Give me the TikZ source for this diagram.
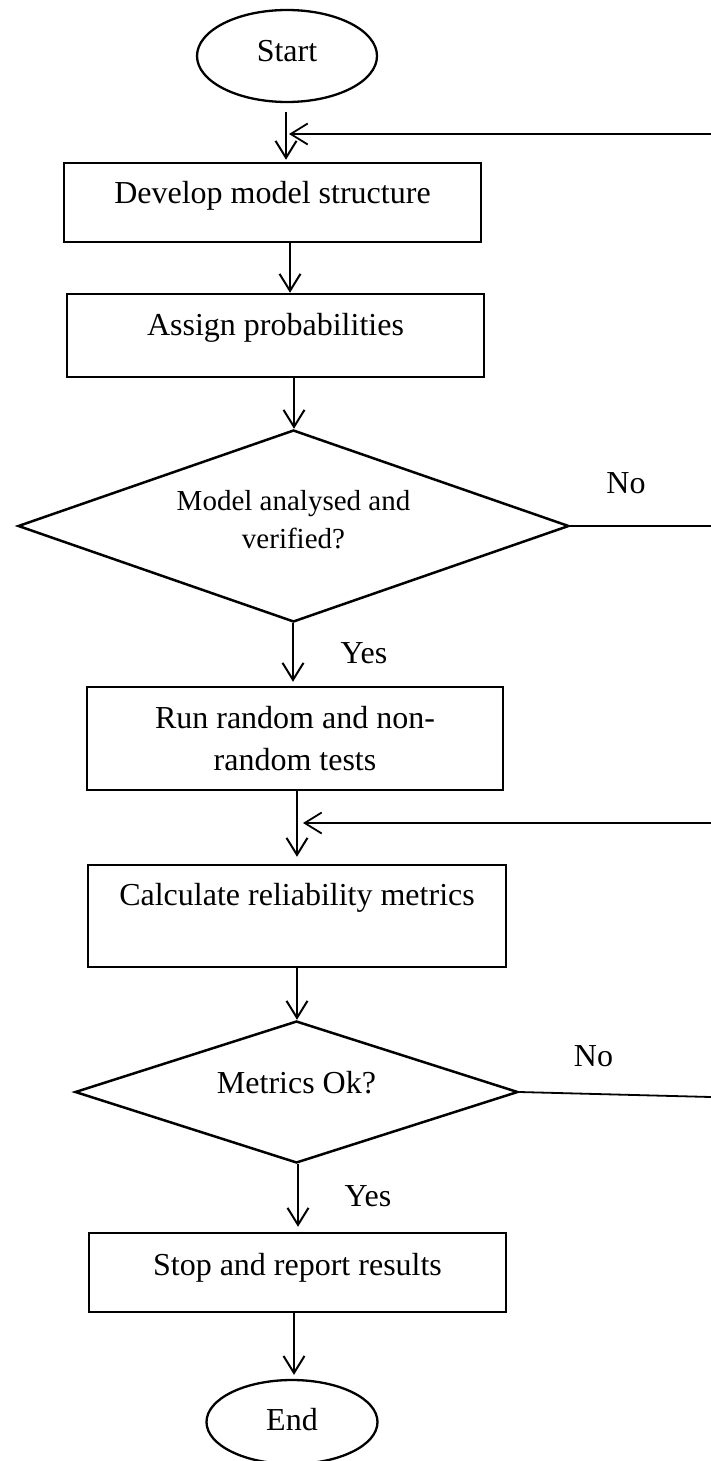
\documentclass[tikz,border=0pt]{standalone}
\usepackage{fontspec}
\setmainfont{Liberation Serif}
\usetikzlibrary{arrows.meta,shapes.geometric}
\begin{document}
\begin{tikzpicture}[x=1pt,y=-1pt,
  every node/.style={inner sep=0pt, font=\fontsize{32}{42}\selectfont},
  terminal/.style={draw, ellipse, line width=2.3pt},
  procbox/.style={draw, rectangle, line width=2.5pt, align=center},
  decision/.style={draw, diamond, line width=2.5pt, align=center},
  flow/.style={line width=2pt, -{Straight Barb[length=17pt,width=21pt]}},
  loopline/.style={line width=1.8pt},
  lbl/.style={anchor=base}
]
\useasboundingbox (0,0) rectangle (711,1461);

% shapes of the flow
\node[terminal, minimum width=180pt, minimum height=92pt, text height=12pt, text depth=0pt] (start) at (287,56) {Start};
\node[procbox, minimum width=417pt, minimum height=79pt, text height=9pt, text depth=8pt] (develop) at (272.5,202.5) {Develop model structure};
\node[procbox, minimum width=417pt, minimum height=83pt, text height=7pt, text depth=8pt] (assign) at (275.5,335.5) {Assign probabilities};
\node[decision, aspect=2.87, minimum width=551pt, minimum height=192pt, text height=52pt, text depth=8pt, font=\fontsize{29}{38}\selectfont] (verify) at (293.5,526) {Model analysed and\\verified?};
\node[procbox, minimum width=416pt, minimum height=103pt, text height=71pt, text depth=8pt] (tests) at (295,738.5) {Run random and non-\\random tests};
\node[procbox, minimum width=418pt, minimum height=102pt, text height=8pt, text depth=30pt] (metrics) at (297,916) {Calculate reliability metrics};
\node[decision, aspect=3.12, minimum width=443pt, minimum height=142pt, text height=10pt, text depth=8pt] (metricsok) at (296.5,1092) {Metrics Ok?};
\node[procbox, minimum width=417pt, minimum height=79pt, text height=13pt, text depth=8pt] (report) at (297.5,1272.5) {Stop and report results};
\node[terminal, minimum width=171pt, minimum height=84pt, text height=16pt, text depth=0pt] (end) at (292,1422) {End};

% branch labels
\node[lbl] (no1) at (626,493) {No};
\node[lbl] (yes1) at (364,663) {Yes};
\node[lbl] (no2) at (593.5,1066) {No};
\node[lbl] (yes2) at (368,1206) {Yes};

% x positions of the vertical connectors
\coordinate (x1) at (286,0);
\coordinate (x2) at (290,0);
\coordinate (x3) at (294,0);
\coordinate (x4) at (293,0);
\coordinate (x5) at (297,0);
\coordinate (x6) at (297,0);
\coordinate (x7) at (298,0);
\coordinate (x8) at (294,0);

% loop-back ends at the right edge
\coordinate (rt1) at (711,134);
\coordinate (rt2) at (711,526);
\coordinate (rt3) at (711,823);
\coordinate (rt4) at (711,1097);

% main flow
\draw[flow, shorten <=9pt, shorten >=2pt] (start.south -| x1) -- (develop.north -| x1);
\draw[flow] (develop.south -| x2) -- (assign.north -| x2);
\draw[flow] (assign.south -| x3) -- (verify.north -| x3);
\draw[flow, shorten >=4pt] (verify.south -| x4) -- (tests.north -| x4);
\draw[flow, shorten >=7pt] (tests.south -| x5) -- (metrics.north -| x5);
\draw[flow] (metrics.south -| x6) -- (metricsok.north -| x6);
\draw[flow, shorten >=5pt] (metricsok.south -| x7) -- (report.north -| x7);
\draw[flow, shorten >=4pt] (report.south -| x8) -- (end.north -| x8);

% "No" branches and loop-back arrows
\draw[loopline] (verify.east) -- (rt2);
\draw[loopline] (metricsok.east) -- (rt4);
\draw[flow, line width=1.8pt, shorten >=3pt] (rt1) -- (rt1 -| x1);
\draw[flow, line width=1.8pt, shorten >=6pt] (rt3) -- (rt3 -| x5);
\end{tikzpicture}
\end{document}
